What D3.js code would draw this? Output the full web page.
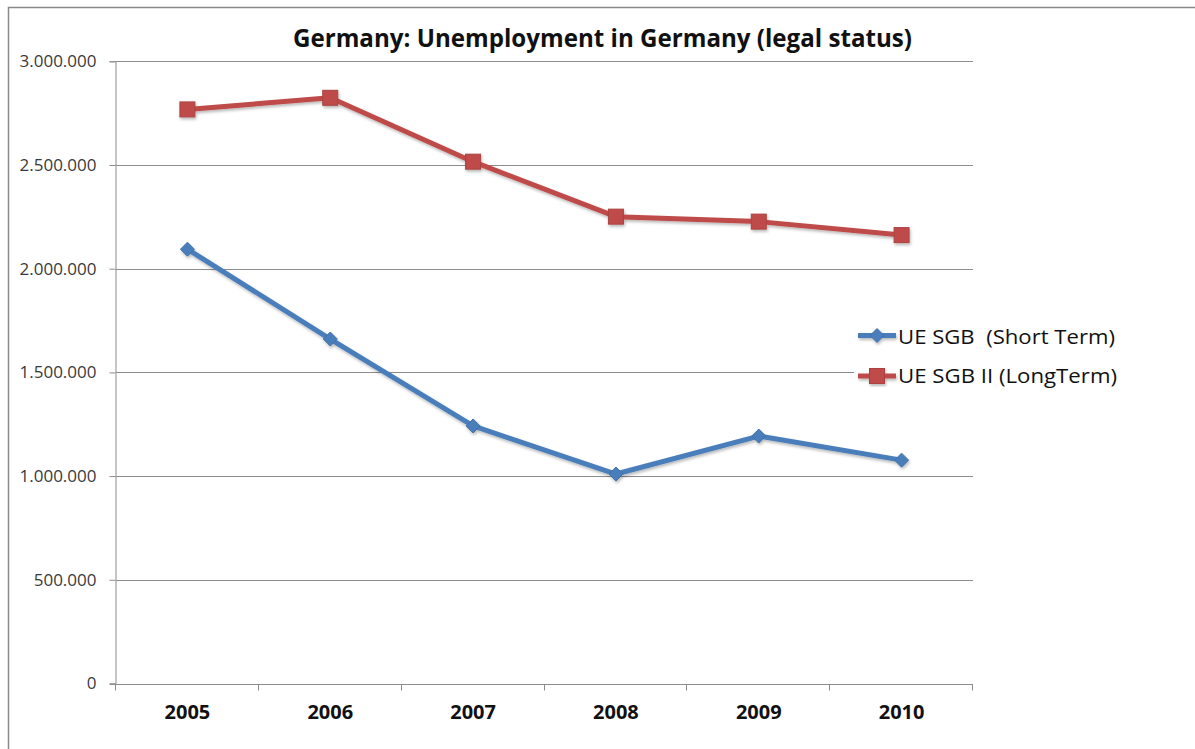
<!DOCTYPE html>
<html>
<head>
<meta charset="utf-8">
<script src="https://cdn.jsdelivr.net/npm/d3@7"></script>
<style>
  html, body { margin: 0; padding: 0; background: #fff; }
  svg { display: block; }
  text { font-family: "Open Sans", sans-serif; }
</style>
</head>
<body>
<svg id="chart" width="1195" height="749"></svg>
<script>
// Unemployment in Germany by legal status (persons)
const years = ["2005", "2006", "2007", "2008", "2009", "2010"];
const shortTerm = [2094000, 1661000, 1242000, 1010000, 1193000, 1077000]; // UE SGB
const longTerm  = [2768000, 2824000, 2516000, 2251000, 2227000, 2162000]; // UE SGB II
const yTicks = [0, 500000, 1000000, 1500000, 2000000, 2500000, 3000000];
const seriesNames = ["UE SGB  (Short Term)", "UE SGB II (LongTerm)"];
const titleText = "Germany: Unemployment in Germany (legal status)";

const svg = d3.select("#chart");
const W = 1195, H = 749;
const plot = { left: 116, right: 973, top: 61.3, bottom: 683.5 };

const x = d3.scaleBand().domain(years).range([plot.left, plot.right]).padding(0);
const y = d3.scaleLinear().domain([0, 3000000]).range([plot.bottom, plot.top]);
const fmt = v => d3.format(",")(v).replace(/,/g, ".");

const colors = { short: "#4A7EBB", long: "#BE4B48" };
const gridColor = "#8c8c8c";

// drop shadow for the lines and markers
const defs = svg.append("defs");
const shadow = defs.append("filter").attr("id", "shadow")
  .attr("x", "-20%").attr("y", "-20%").attr("width", "140%").attr("height", "140%");
shadow.append("feDropShadow").attr("dx", 1).attr("dy", 2)
  .attr("stdDeviation", 1.4).attr("flood-color", "#000").attr("flood-opacity", 0.28);

// outer chart border
svg.append("rect")
  .attr("x", 8.5).attr("y", 7.5).attr("width", W + 10).attr("height", H + 10)
  .attr("fill", "#fff").attr("stroke", "#8a8a8a").attr("stroke-width", 1.5);

// title
svg.append("text")
  .attr("x", (293 + 912) / 2).attr("y", 46.5)
  .attr("text-anchor", "middle")
  .attr("font-weight", 700).attr("font-size", 24.5)
  .attr("fill", "#111")
  .attr("textLength", 619).attr("lengthAdjust", "spacingAndGlyphs")
  .text(titleText);

// horizontal gridlines
svg.append("g").selectAll("line")
  .data(yTicks.filter(d => d > 0))
  .join("line")
  .attr("x1", plot.left).attr("x2", plot.right)
  .attr("y1", d => Math.round(y(d)) + 0.5).attr("y2", d => Math.round(y(d)) + 0.5)
  .attr("stroke", gridColor).attr("stroke-width", 1);

// y axis
const yAxis = svg.append("g")
  .attr("transform", `translate(${plot.left - 0.5},0)`)
  .call(d3.axisLeft(y).tickValues(yTicks).tickFormat(fmt).tickSize(6).tickPadding(13));
yAxis.select(".domain").attr("stroke", gridColor);
yAxis.selectAll(".tick line").attr("stroke", gridColor);
yAxis.selectAll(".tick text")
  .attr("font-family", "Open Sans, sans-serif")
  .attr("font-size", 17).attr("fill", "#3a3a3a");

// x axis: tick marks on category boundaries, labels at centers
const xAxisY = Math.round(y(0)) + 0.5;
const xg = svg.append("g");
xg.append("line")
  .attr("x1", plot.left - 6).attr("x2", plot.right)
  .attr("y1", xAxisY).attr("y2", xAxisY)
  .attr("stroke", gridColor);
const boundaries = years.map(d => x(d)).concat([x(years[years.length - 1]) + x.bandwidth()]);
xg.selectAll(".xtick").data(boundaries).join("line")
  .attr("class", "xtick")
  .attr("x1", d => Math.round(d) - 0.5).attr("x2", d => Math.round(d) - 0.5)
  .attr("y1", xAxisY).attr("y2", xAxisY + 6)
  .attr("stroke", gridColor);
xg.selectAll(".xlabel").data(years).join("text")
  .attr("class", "xlabel")
  .attr("x", d => x(d) + x.bandwidth() / 2)
  .attr("y", 718.5)
  .attr("text-anchor", "middle")
  .attr("font-weight", 700).attr("font-size", 20)
  .attr("fill", "#111")
  .text(d => d);

// series
const cx = d => x(d) + x.bandwidth() / 2;
const line = d3.line().x((d, i) => cx(years[i])).y(d => y(d));
const series = [
  { key: "short", values: shortTerm, color: colors.short, symbol: "diamond" },
  { key: "long", values: longTerm, color: colors.long, symbol: "square" }
];

function drawMarker(g, type, color) {
  if (type === "square") {
    g.append("rect").attr("x", -7.5).attr("y", -7.5).attr("width", 15).attr("height", 15)
      .attr("fill", color).attr("stroke", d3.color(color).darker(0.3)).attr("stroke-width", 1);
  } else {
    g.append("path").attr("d", "M0,-7 L7,0 L0,7 L-7,0 Z")
      .attr("fill", color).attr("stroke", d3.color(color).darker(0.3)).attr("stroke-width", 1);
  }
}

const seriesG = svg.append("g").attr("filter", "url(#shadow)");
series.forEach(s => {
  seriesG.append("path")
    .attr("d", line(s.values))
    .attr("fill", "none").attr("stroke", s.color)
    .attr("stroke-width", 5).attr("stroke-linejoin", "round");
  s.values.forEach((v, i) => {
    const g = seriesG.append("g").attr("transform", `translate(${cx(years[i])},${y(v)})`);
    drawMarker(g, s.symbol, s.color);
  });
});

// legend
const legend = svg.append("g");
legend.append("rect")
  .attr("x", 854).attr("y", 312).attr("width", 270).attr("height", 88)
  .attr("fill", "#fff");
const legendRows = [
  { name: seriesNames[0], color: colors.short, symbol: "diamond", cy: 335.5, base: 343.5, w: 217 },
  { name: seriesNames[1], color: colors.long, symbol: "square", cy: 376, base: 383, w: 219 }
];
legendRows.forEach(r => {
  const g = legend.append("g").attr("filter", "url(#shadow)");
  g.append("line").attr("x1", 858).attr("x2", 896)
    .attr("y1", r.cy).attr("y2", r.cy)
    .attr("stroke", r.color).attr("stroke-width", 5);
  const m = g.append("g").attr("transform", `translate(877,${r.cy})`);
  drawMarker(m, r.symbol, r.color);
  legend.append("text")
    .attr("x", 898).attr("y", r.base)
    .attr("font-size", 20.5).attr("fill", "#111")
    .attr("textLength", r.w).attr("lengthAdjust", "spacingAndGlyphs")
    .attr("xml:space", "preserve")
    .style("white-space", "pre")
    .text(r.name);
});
</script>
</body>
</html>
